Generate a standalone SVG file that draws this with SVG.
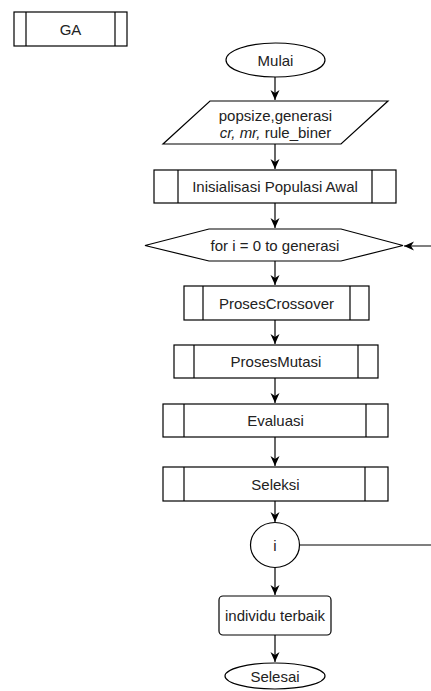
<svg xmlns="http://www.w3.org/2000/svg" width="431" height="691" viewBox="0 0 431 691">
<style>
.s{fill:#fff;stroke:#000;stroke-width:1.2}
.l{fill:none;stroke:#000;stroke-width:1.2}
.t{font-family:"Liberation Sans",Arial,sans-serif;font-size:15px;fill:#222;text-anchor:middle;dominant-baseline:central}
.c{fill:none;stroke:#000;stroke-width:1.2}
</style>
<defs>
<marker id="a" markerUnits="userSpaceOnUse" markerWidth="12" markerHeight="10" refX="10" refY="5" orient="auto">
<path d="M0,0.5 L10,5 L0,9.5 L3,5 z" fill="#000"/>
</marker>
</defs>
<rect width="431" height="691" fill="#fff"/>
<g id="ga">
<rect class="s" x="14" y="12" width="113" height="34"/>
<line class="l" x1="26" y1="12" x2="26" y2="46"/>
<line class="l" x1="115" y1="12" x2="115" y2="46"/>
<text class="t" x="70.5" y="29">GA</text>
</g>
<g id="connectors">
<line class="c" x1="275" y1="77" x2="275" y2="100" marker-end="url(#a)"/>
<line class="c" x1="275" y1="144" x2="275" y2="169" marker-end="url(#a)"/>
<line class="c" x1="275" y1="203" x2="275" y2="228" marker-end="url(#a)"/>
<line class="c" x1="275" y1="261" x2="275" y2="285" marker-end="url(#a)"/>
<line class="c" x1="275" y1="320" x2="275" y2="344" marker-end="url(#a)"/>
<line class="c" x1="275" y1="378" x2="275" y2="403" marker-end="url(#a)"/>
<line class="c" x1="275" y1="437" x2="275" y2="466" marker-end="url(#a)"/>
<line class="c" x1="275" y1="501" x2="275" y2="522" marker-end="url(#a)"/>
<line class="c" x1="275" y1="567" x2="275" y2="595" marker-end="url(#a)"/>
<line class="c" x1="275" y1="635" x2="275" y2="662" marker-end="url(#a)"/>
<polyline class="c" points="299,545 433,545 433,246 404,246" marker-end="url(#a)"/>
</g>
<g id="mulai">
<ellipse class="s" cx="275.5" cy="60" rx="49.5" ry="17"/>
<text class="t" x="275.5" y="60">Mulai</text>
</g>
<g id="input">
<polygon class="s" points="210,101 388,101 341,144 163,144"/>
<text class="t" x="275.5" y="115">popsize,generasi</text>
<text class="t" x="275.5" y="132"><tspan font-style="italic">cr, mr,</tspan> rule_biner</text>
</g>
<g id="inisialisasi">
<rect class="s" x="154" y="170" width="242" height="33"/>
<line class="l" x1="178" y1="170" x2="178" y2="203"/>
<line class="l" x1="372" y1="170" x2="372" y2="203"/>
<text class="t" x="275" y="186.5">Inisialisasi Populasi Awal</text>
</g>
<g id="for">
<polygon class="s" points="145,245.5 209,229 341,229 403,245.5 341,261 209,261"/>
<text class="t" x="275" y="245">for i = 0 to generasi</text>
</g>
<g id="crossover">
<rect class="s" x="184" y="286" width="185" height="34"/>
<line class="l" x1="203" y1="286" x2="203" y2="320"/>
<line class="l" x1="350" y1="286" x2="350" y2="320"/>
<text class="t" x="276.5" y="303">ProsesCrossover</text>
</g>
<g id="mutasi">
<rect class="s" x="174" y="345" width="204" height="33"/>
<line class="l" x1="194" y1="345" x2="194" y2="378"/>
<line class="l" x1="358" y1="345" x2="358" y2="378"/>
<text class="t" x="276" y="361.5">ProsesMutasi</text>
</g>
<g id="evaluasi">
<rect class="s" x="163" y="404" width="225" height="33"/>
<line class="l" x1="184" y1="404" x2="184" y2="437"/>
<line class="l" x1="366" y1="404" x2="366" y2="437"/>
<text class="t" x="275.5" y="420.5">Evaluasi</text>
</g>
<g id="seleksi">
<rect class="s" x="163" y="467" width="225" height="34"/>
<line class="l" x1="184" y1="467" x2="184" y2="501"/>
<line class="l" x1="365" y1="467" x2="365" y2="501"/>
<text class="t" x="275.5" y="484">Seleksi</text>
</g>
<g id="i">
<ellipse class="s" cx="275" cy="545" rx="24.5" ry="22.5"/>
<text class="t" x="275" y="545">i</text>
</g>
<g id="terbaik">
<rect class="s" x="219" y="596" width="112" height="39" rx="4"/>
<text class="t" x="275" y="615.5">individu terbaik</text>
</g>
<g id="selesai">
<ellipse class="s" cx="275" cy="676" rx="50" ry="13"/>
<text class="t" x="275" y="676">Selesai</text>
</g>
</svg>
